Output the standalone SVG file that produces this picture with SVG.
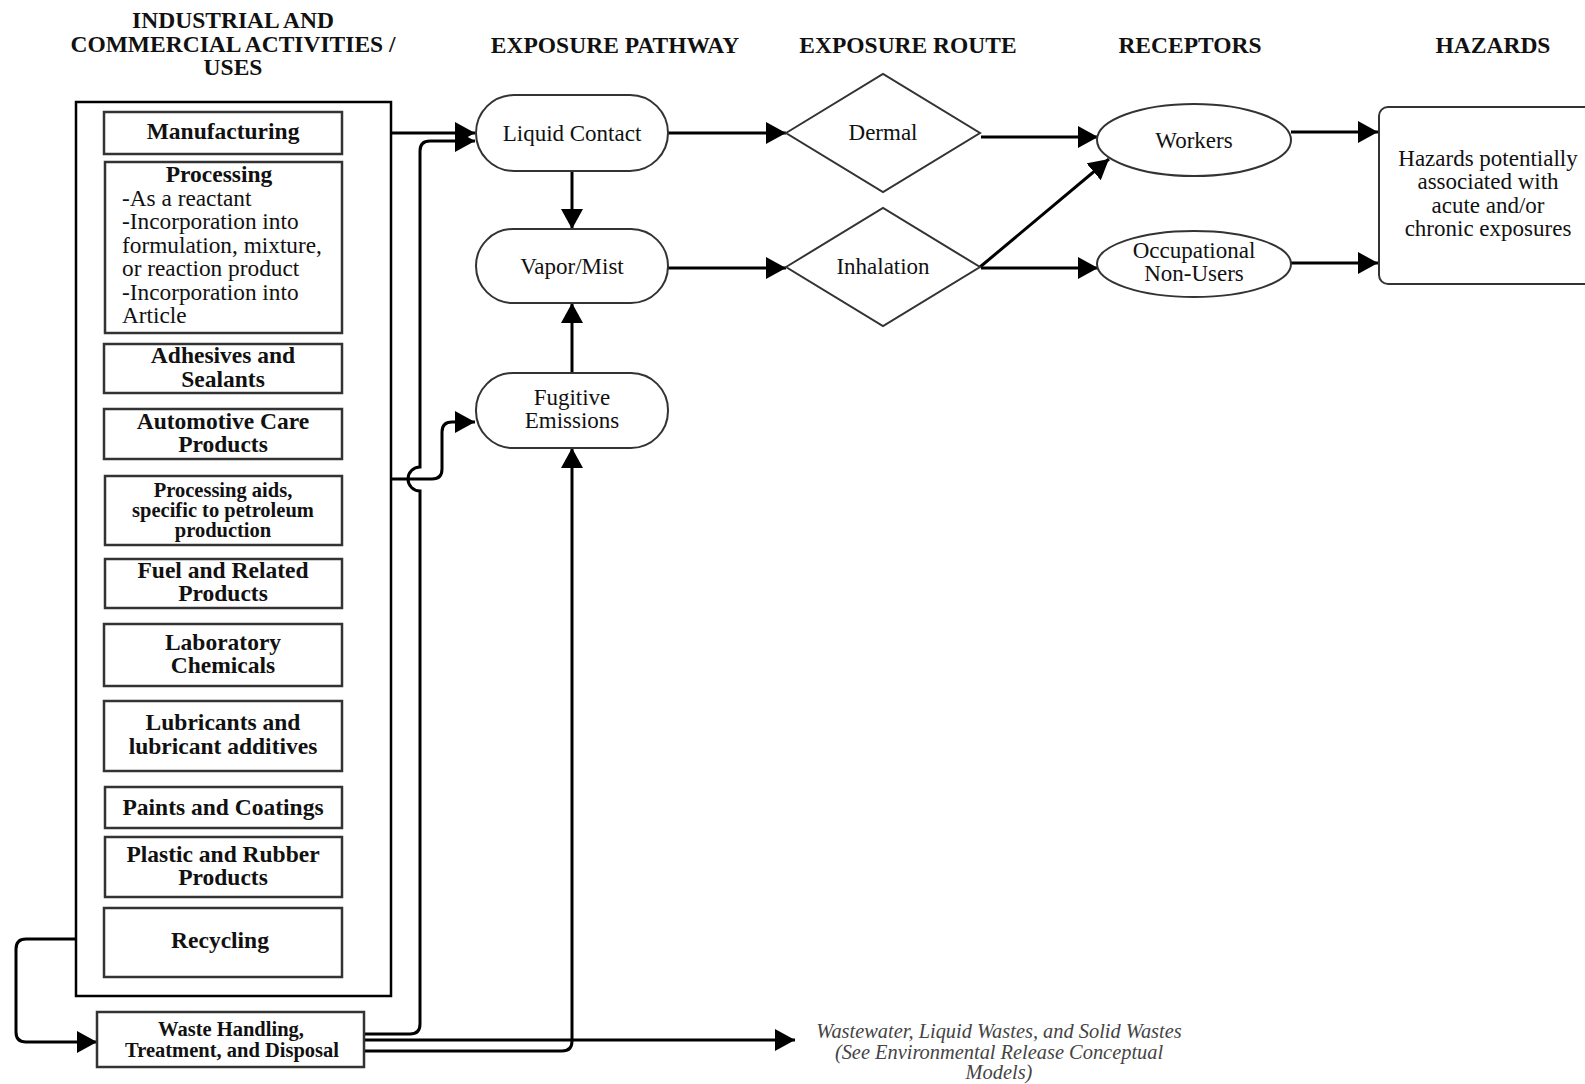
<svg xmlns="http://www.w3.org/2000/svg" width="1585" height="1084" viewBox="0 0 1585 1084">
  <defs>
    <marker id="arrow" markerUnits="userSpaceOnUse" markerWidth="22" markerHeight="22" refX="20" refY="11" orient="auto">
      <path d="M0,0 L20,11 L0,22 Z" fill="#000"/>
    </marker>
  </defs>
  <style>
    text { font-family: "Liberation Serif", "Times New Roman", serif; fill: #111; }
    .hdr { font-size: 23.5px; font-weight: bold; text-anchor: middle; }
    .item { fill: #fff; stroke: #333; stroke-width: 2.5; }
    .ib { font-size: 23.5px; font-weight: bold; text-anchor: middle; }
    .ibs { font-size: 20.5px; font-weight: bold; text-anchor: middle; }
    .reg { font-size: 23px; text-anchor: middle; }
    .lft { font-size: 23.3px; }
    .shape { fill: #fff; stroke: #333; stroke-width: 2; }
    .note { font-size: 20.4px; font-style: italic; text-anchor: middle; fill: #444; }
    .conn { fill: none; stroke: #000; stroke-width: 3; }
    .arr { marker-end: url(#arrow); }
  </style>

  <rect width="1585" height="1084" fill="#fff"/>

  <!-- column headings -->
  <g id="headings">
    <text class="hdr" x="233" y="28">INDUSTRIAL AND</text>
    <text class="hdr" x="233" y="52">COMMERCIAL ACTIVITIES /</text>
    <text class="hdr" x="233" y="75">USES</text>
    <text class="hdr" x="615" y="53">EXPOSURE PATHWAY</text>
    <text class="hdr" x="908" y="53">EXPOSURE ROUTE</text>
    <text class="hdr" x="1190" y="53">RECEPTORS</text>
    <text class="hdr" x="1493" y="53">HAZARDS</text>
  </g>

  <!-- connectors -->
  <g id="connectors">
    <path class="conn arr" d="M391,133 H475"/>
    <path class="conn arr" d="M364,1034 H410 Q420,1034 420,1024 V491 A12,12 0 0 1 420,467 V151 Q420,141 430,141 H475"/>
    <path class="conn arr" d="M391,479 H432 Q442,479 442,469 V432 Q442,422 452,422 H475"/>
    <path class="conn arr" d="M572,171 V229"/>
    <path class="conn arr" d="M572,373 V303"/>
    <path class="conn arr" d="M364,1051 H562 Q572,1051 572,1041 V448"/>
    <path class="conn arr" d="M364,1040 H795"/>
    <path class="conn arr" d="M76,939 H26 Q16,939 16,949 V1032 Q16,1042 26,1042 H97"/>
    <path class="conn arr" d="M668,133 H786"/>
    <path class="conn arr" d="M668,268 H786"/>
    <path class="conn arr" d="M981,137 H1098"/>
    <path class="conn arr" d="M981,268 H1098"/>
    <path class="conn arr" d="M980,267 L1109,159"/>
    <path class="conn arr" d="M1291,132 H1378"/>
    <path class="conn arr" d="M1291,263 H1378"/>
  </g>

  <!-- activities / uses container -->
  <g id="uses">
    <rect x="76" y="102" width="315" height="894" fill="none" stroke="#000" stroke-width="2.5"/>
  </g>

  <g id="manufacturing">
    <rect class="item" x="104" y="112" width="238" height="42"/>
    <text class="ib" x="223" y="139">Manufacturing</text>
  </g>

  <g id="processing">
    <rect class="item" x="105" y="162" width="237" height="171"/>
    <text class="ib" x="219" y="182">Processing</text>
    <text class="lft" x="122" y="205.5">-As a reactant</text>
    <text class="lft" x="122" y="229">-Incorporation into</text>
    <text class="lft" x="122" y="252.5">formulation, mixture,</text>
    <text class="lft" x="122" y="276">or reaction product</text>
    <text class="lft" x="122" y="299.5">-Incorporation into</text>
    <text class="lft" x="122" y="323">Article</text>
  </g>

  <g id="adhesives">
    <rect class="item" x="104" y="344" width="238" height="49"/>
    <text class="ib" x="223" y="363">Adhesives and</text>
    <text class="ib" x="223" y="387">Sealants</text>
  </g>

  <g id="automotive">
    <rect class="item" x="104" y="409" width="238" height="50"/>
    <text class="ib" x="223" y="429">Automotive Care</text>
    <text class="ib" x="223" y="452">Products</text>
  </g>

  <g id="processing-aids">
    <rect class="item" x="105" y="476" width="237" height="69"/>
    <text class="ibs" x="223" y="497">Processing aids,</text>
    <text class="ibs" x="223" y="517">specific to petroleum</text>
    <text class="ibs" x="223" y="537">production</text>
  </g>

  <g id="fuel">
    <rect class="item" x="105" y="559" width="237" height="49"/>
    <text class="ib" x="223" y="578">Fuel and Related</text>
    <text class="ib" x="223" y="601">Products</text>
  </g>

  <g id="laboratory">
    <rect class="item" x="104" y="624" width="238" height="62"/>
    <text class="ib" x="223" y="650">Laboratory</text>
    <text class="ib" x="223" y="673">Chemicals</text>
  </g>

  <g id="lubricants">
    <rect class="item" x="104" y="701" width="238" height="70"/>
    <text class="ib" x="223" y="730">Lubricants and</text>
    <text class="ib" x="223" y="754">lubricant additives</text>
  </g>

  <g id="paints">
    <rect class="item" x="105" y="787" width="237" height="41"/>
    <text class="ib" x="223" y="815">Paints and Coatings</text>
  </g>

  <g id="plastic">
    <rect class="item" x="105" y="837" width="237" height="60"/>
    <text class="ib" x="223" y="862">Plastic and Rubber</text>
    <text class="ib" x="223" y="885">Products</text>
  </g>

  <g id="recycling">
    <rect class="item" x="104" y="908" width="238" height="69"/>
    <text class="ib" x="220" y="948">Recycling</text>
  </g>

  <g id="waste">
    <rect class="item" x="97" y="1012" width="267" height="55"/>
    <text class="ibs" x="231" y="1036">Waste Handling,</text>
    <text class="ibs" x="232" y="1057">Treatment, and Disposal</text>
  </g>

  <!-- exposure pathways -->
  <g id="liquid-contact">
    <rect class="shape" x="476" y="95" width="192" height="76" rx="38"/>
    <text class="reg" x="572" y="141">Liquid Contact</text>
  </g>

  <g id="vapor-mist">
    <rect class="shape" x="476" y="229" width="192" height="74" rx="37"/>
    <text class="reg" x="572" y="274">Vapor/Mist</text>
  </g>

  <g id="fugitive-emissions">
    <rect class="shape" x="476" y="373" width="192" height="75" rx="37"/>
    <text class="reg" x="572" y="405">Fugitive</text>
    <text class="reg" x="572" y="428">Emissions</text>
  </g>

  <!-- exposure routes -->
  <g id="dermal">
    <polygon class="shape" points="786,133 883,74 980,133 883,192"/>
    <text class="reg" x="883" y="140">Dermal</text>
  </g>

  <g id="inhalation">
    <polygon class="shape" points="786,267 883,208 980,267 883,326"/>
    <text class="reg" x="883" y="274">Inhalation</text>
  </g>

  <!-- receptors -->
  <g id="workers">
    <ellipse class="shape" cx="1194" cy="140" rx="97" ry="36"/>
    <text class="reg" x="1194" y="148">Workers</text>
  </g>

  <g id="non-users">
    <ellipse class="shape" cx="1194" cy="264" rx="97" ry="33"/>
    <text class="reg" x="1194" y="258">Occupational</text>
    <text class="reg" x="1194" y="281">Non-Users</text>
  </g>

  <!-- hazards -->
  <g id="hazards">
    <rect class="shape" x="1379" y="107" width="230" height="177" rx="9"/>
    <text class="reg" x="1488" y="166">Hazards potentially</text>
    <text class="reg" x="1488" y="189">associated with</text>
    <text class="reg" x="1488" y="213">acute and/or</text>
    <text class="reg" x="1488" y="236">chronic exposures</text>
  </g>

  <!-- environmental release note -->
  <g id="release-note">
    <text class="note" x="999" y="1038">Wastewater, Liquid Wastes, and Solid Wastes</text>
    <text class="note" x="999" y="1059">(See Environmental Release Conceptual</text>
    <text class="note" x="999" y="1079">Models)</text>
  </g>
</svg>
